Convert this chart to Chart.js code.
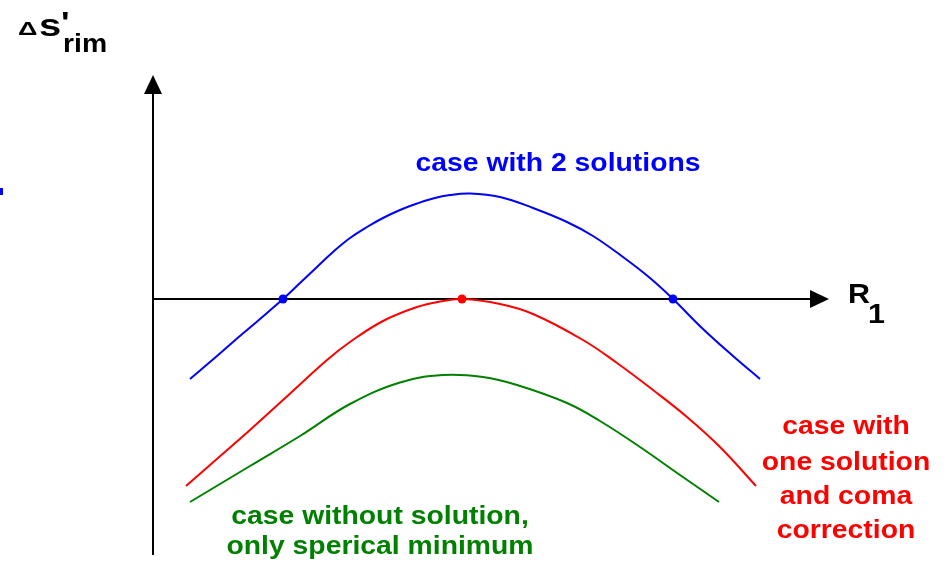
<!DOCTYPE html>
<html lang="en">

<head>
    <meta charset="UTF-8">
    <title>Spherical aberration at the rim vs. R1</title>
    <script src="https://cdn.jsdelivr.net/npm/chart.js"></script>
    <style>
        body {
            margin: 0;
            background: #fff;
        }

        #wrap {
            position: relative;
            width: 947px;
            height: 562px;
        }
    </style>
</head>

<body>
    <div id="wrap">
        <canvas id="rimChart"></canvas>
    </div>

    <script>
        // R1 / delta s'rim in arbitrary units, origin where the axes cross
        const blueR1 = [0.74, 1.28, 1.60, 1.94, 2.28, 2.60, 2.94, 3.28, 3.60, 3.94, 4.28, 4.60, 4.94, 5.28, 5.60, 5.94, 6.34, 6.94, 7.60, 8.28, 8.80, 9.40, 9.94, 10.40, 11.00, 11.60, 12.14];
        const blueDs = [-1.60, -1.14, -0.86, -0.57, -0.28, 0.00, 0.32, 0.64, 0.94, 1.22, 1.44, 1.62, 1.78, 1.91, 2.01, 2.08, 2.11, 2.04, 1.82, 1.54, 1.26, 0.84, 0.42, 0.00, -0.60, -1.14, -1.60];

        const redR1 = [0.66, 1.30, 1.94, 2.60, 3.48, 3.94, 4.60, 5.28, 5.74, 6.18, 6.94, 7.60, 8.60, 9.28, 10.00, 10.68, 11.34, 12.06];
        const redDs = [-3.74, -3.18, -2.62, -2.02, -1.22, -0.86, -0.44, -0.16, -0.05, 0.00, -0.10, -0.30, -0.82, -1.28, -1.82, -2.36, -2.96, -3.74];

        const greenR1 = [0.74, 1.94, 2.94, 3.94, 4.94, 5.80, 6.60, 7.28, 8.28, 8.94, 9.74, 10.54, 11.32];
        const greenDs = [-4.06, -3.34, -2.74, -2.10, -1.67, -1.52, -1.56, -1.72, -2.08, -2.44, -2.96, -3.52, -4.06];

        // zero crossings
        const blueRootsR1 = [2.60, 10.40];
        const redRootR1 = [6.18];

        const xMin = 0, xMax = 13.54;
        const yMin = -5.12, yMax = 4.48;

        const pts = (xs, ys) => xs.map((x, i) => ({ x: x, y: ys[i] }));

        function curve(data, color) {
            return {
                data: data,
                borderColor: color,
                borderWidth: 2,
                pointRadius: 0,
                tension: 0.4,
                clip: false
            };
        }

        function dots(xs, color) {
            return {
                data: xs.map(x => ({ x: x, y: 0 })),
                showLine: false,
                pointRadius: 4.5,
                pointBackgroundColor: color,
                pointBorderWidth: 0,
                clip: false
            };
        }

        // bold label text, slightly widened
        function label(ctx, text, x, y, size, color, align, sx) {
            ctx.save();
            ctx.font = 'bold ' + size + 'px "Liberation Sans", Arial, sans-serif';
            ctx.fillStyle = color;
            ctx.textBaseline = 'alphabetic';
            ctx.translate(x, y);
            ctx.scale(sx || 1.09, 1);
            ctx.textAlign = align || 'left';
            ctx.fillText(text, 0, 0);
            ctx.restore();
        }

        const axesPlugin = {
            id: 'axes',
            beforeDatasetsDraw(chart) {
                const ctx = chart.ctx;
                const xs = chart.scales.x, ys = chart.scales.y;
                const x0 = xs.getPixelForValue(0), y0 = ys.getPixelForValue(0);
                const top = ys.getPixelForValue(yMax), bottom = ys.getPixelForValue(yMin);
                const right = xs.getPixelForValue(xMax) - 1;
                ctx.save();
                ctx.strokeStyle = '#000';
                ctx.fillStyle = '#000';
                ctx.lineWidth = 2;
                // vertical axis
                ctx.beginPath();
                ctx.moveTo(x0, bottom);
                ctx.lineTo(x0, top + 18);
                ctx.stroke();
                ctx.beginPath();
                ctx.moveTo(x0, top);
                ctx.lineTo(x0 - 9, top + 19);
                ctx.lineTo(x0 + 9, top + 19);
                ctx.closePath();
                ctx.fill();
                // horizontal axis
                ctx.beginPath();
                ctx.moveTo(x0, y0);
                ctx.lineTo(right - 18, y0);
                ctx.stroke();
                ctx.beginPath();
                ctx.moveTo(right, y0);
                ctx.lineTo(right - 19, y0 - 9);
                ctx.lineTo(right - 19, y0 + 9);
                ctx.closePath();
                ctx.fill();
                ctx.restore();
            },
            afterDraw(chart) {
                const ctx = chart.ctx;
                // axis titles
                label(ctx, '\u0394', 18, 35, 18, '#000', 'left', 1.5);
                label(ctx, 's', 39, 36, 32, '#000', 'left', 1.25);
                label(ctx, "'", 61, 32, 30, '#000', 'left', 1.2);
                label(ctx, 'rim', 63, 52, 26, '#000');
                label(ctx, 'R', 848, 303, 28, '#000');
                label(ctx, '1', 868, 323, 28, '#000');
                // curve captions
                label(ctx, 'case with 2 solutions', 558, 171, 26, '#0000ff', 'center');
                label(ctx, 'case with', 846, 434, 26, '#ff0000', 'center');
                label(ctx, 'one solution', 846, 470, 26, '#ff0000', 'center');
                label(ctx, 'and coma', 846, 504, 26, '#ff0000', 'center');
                label(ctx, 'correction', 846, 538, 26, '#ff0000', 'center');
                label(ctx, 'case without solution,', 380, 524, 26, '#008000', 'center');
                label(ctx, 'only sperical minimum', 380, 554, 26, '#008000', 'center');
                // cut-off fragment at the left edge
                ctx.fillStyle = '#0000ff';
                ctx.fillRect(0, 188, 3, 7);
            }
        };

        const ctx = document.getElementById('rimChart').getContext('2d');
        const rimChart = new Chart(ctx, {
            type: 'line',
            data: {
                datasets: [
                    curve(pts(blueR1, blueDs), '#0000ff'),
                    curve(pts(redR1, redDs), '#ff0000'),
                    curve(pts(greenR1, greenDs), '#008000'),
                    dots(blueRootsR1, '#0000ff'),
                    dots(redRootR1, '#ff0000')
                ]
            },
            options: {
                responsive: true,
                maintainAspectRatio: false,
                animation: false,
                layout: { padding: { left: 153, right: 117, top: 75, bottom: 7 } },
                plugins: { legend: { display: false }, tooltip: { enabled: false } },
                scales: {
                    x: { type: 'linear', min: xMin, max: xMax, display: false },
                    y: { type: 'linear', min: yMin, max: yMax, display: false }
                }
            },
            plugins: [axesPlugin]
        });
    </script>
</body>

</html>
